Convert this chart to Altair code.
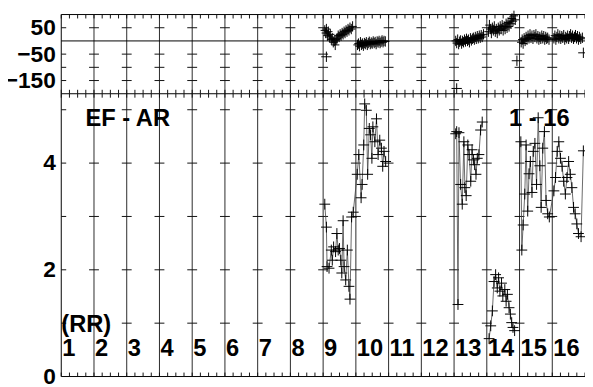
import altair as alt
import pandas as pd

# ---------------- values ----------------
grid_x = [2, 3, 4, 5, 6, 7, 8, 9, 10, 11, 12, 13, 14, 15, 16]
col_labels = ["1", "2", "3", "4", "5", "6", "7", "8", "9", "10", "11", "12", "13", "14", "15", "16"]
col_label_x = [1, 2, 3, 4, 5, 6, 7, 8, 9, 10, 11, 12, 13, 14, 15, 16]

top_tick_vals = [50, -50, -100, -150]
top_label_vals = [50, -50, -150]
bot_tick_vals = [1, 2, 3, 4, 5]
bot_label_vals = [0, 2, 4]

# bottom panel (EF - AR)
a_x = [9.05, 9.10, 9.12, 9.18, 9.25, 9.28, 9.32, 9.38, 9.42, 9.46, 9.50, 9.54, 9.57, 9.61, 9.64,
       9.69, 9.74, 9.79, 9.82, 9.87, 9.92, 10.04, 10.09, 10.16, 10.19, 10.24, 10.27, 10.32, 10.36,
       10.41, 10.45, 10.49, 10.52, 10.58, 10.63, 10.68, 10.73, 10.78, 10.82, 10.86, 10.91]
a_y = [3.23, 2.80, 2.06, 2.03, 2.37, 2.18, 2.43, 2.34, 2.68, 2.37, 2.40, 2.18, 1.94, 2.92, 2.06,
       1.81, 2.37, 1.69, 1.45, 2.99, 3.08, 3.79, 4.16, 3.35, 3.60, 4.34, 5.11, 4.99, 3.79,
       4.65, 4.53, 4.09, 4.68, 4.40, 4.83, 4.16, 4.43, 4.28, 3.94, 4.22, 4.03]
b_x = [13.05, 13.08, 13.12, 13.15, 13.20, 13.25, 13.30, 13.33, 13.37, 13.42, 13.46, 13.51, 13.55,
       13.59, 13.63, 13.67, 13.71, 13.76, 13.81, 13.86]
b_y = [4.55, 4.59, 1.35, 4.57, 3.60, 3.23, 4.40, 3.54, 3.39, 4.34, 4.16, 3.66, 4.25,
       4.06, 3.97, 3.79, 4.09, 4.16, 4.62, 4.77]
c_x = [14.07, 14.12, 14.17, 14.22, 14.27, 14.32, 14.36, 14.40, 14.45, 14.49, 14.55, 14.59, 14.63,
       14.68, 14.72, 14.76, 14.80, 14.85]
c_y = [0.71, 0.95, 1.23, 1.78, 1.91, 1.66, 1.85, 1.60, 1.75, 1.51, 1.63, 1.41, 1.54,
       1.29, 1.17, 1.01, 0.92, 0.86]
d_x = [15.04, 15.07, 15.11, 15.16, 15.20, 15.25, 15.29, 15.33, 15.38, 15.42, 15.47, 15.52, 15.57,
       15.62, 15.66, 15.71, 15.76, 15.81, 15.86, 15.91, 16.05, 16.10, 16.15, 16.20, 16.25, 16.30,
       16.35, 16.40, 16.45, 16.50, 16.55, 16.60, 16.65, 16.70, 16.75, 16.80, 16.88, 16.95]
d_y = [4.40, 2.37, 2.84, 3.42, 4.34, 3.10, 3.80, 4.03, 3.45, 4.22, 4.37, 3.60, 4.85,
       3.95, 3.17, 4.28, 4.59, 3.30, 3.05, 2.99, 3.48, 3.73, 4.22, 4.40, 4.09, 3.94,
       3.66, 3.42, 3.73, 4.03, 3.79, 3.54, 3.17, 3.05, 2.86, 2.68, 2.62, 4.23]

# top panel (residuals)
t9_x = [9.05, 9.08, 9.10, 9.13, 9.16, 9.19, 9.22, 9.25, 9.28, 9.31, 9.34, 9.37, 9.40, 9.43, 9.46,
        9.49, 9.52, 9.55, 9.58, 9.61, 9.64, 9.67, 9.70, 9.73, 9.76, 9.79, 9.82, 9.86, 9.90]
t9_y = [40, 30, 45, 20, 35, 15, 25, 5, 10, -5, 0, -15, 5, 10, 20,
        15, 25, 20, 30, 25, 35, 30, 40, 35, 45, 40, 50, 45, 55]
t10_x = [10.05, 10.08, 10.11, 10.14, 10.17, 10.20, 10.23, 10.26, 10.29, 10.32, 10.35, 10.38, 10.41,
         10.44, 10.47, 10.50, 10.53, 10.56, 10.59, 10.62, 10.65, 10.68, 10.71, 10.74, 10.77, 10.80,
         10.83, 10.86, 10.90]
t10_y = [-15, -10, -20, -5, -15, -10, -18, -8, -12, -5, -15, -8, -3,
         -12, -6, -10, -2, -8, -4, -12, -2, -6, 0, -8, -3, 2,
         -5, 0, -2]
t13_x = [13.05, 13.08, 13.11, 13.14, 13.17, 13.20, 13.23, 13.26, 13.29, 13.32, 13.35, 13.38, 13.41,
         13.44, 13.47, 13.50, 13.53, 13.56, 13.59, 13.62, 13.65, 13.68, 13.71, 13.74, 13.77, 13.80,
         13.83, 13.86, 13.90]
t13_y = [0, -8, 5, -12, -3, 2, -10, 0, -5, 5, -2, 8, 0,
         5, -5, 10, 2, 8, 12, 5, 15, 8, 18, 10, 20, 12,
         22, 15, 25]
t14_x = [14.05, 14.08, 14.11, 14.14, 14.17, 14.20, 14.23, 14.26, 14.29, 14.32, 14.35, 14.38, 14.41,
         14.44, 14.47, 14.50, 14.53, 14.56, 14.59, 14.62, 14.65, 14.68, 14.71, 14.74, 14.77, 14.80,
         14.83, 14.87]
t14_y = [35, 60, 45, 30, 50, 40, 55, 35, 45, 30, 50, 40, 55,
         45, 60, 40, 55, 45, 65, 50, 70, 55, 75, 65, 85, 75,
         95, 80]
t15_x = [15.05, 15.08, 15.11, 15.14, 15.17, 15.20, 15.23, 15.26, 15.29, 15.32, 15.35, 15.38, 15.41,
         15.44, 15.47, 15.50, 15.53, 15.56, 15.59, 15.62, 15.65, 15.68, 15.71, 15.74, 15.77, 15.80,
         15.83, 15.86, 15.90]
t15_y = [-5, 5, -10, 10, 0, 15, 5, 20, 10, 25, 12, 20, 8,
         22, 15, 25, 10, 18, 5, 15, 8, 20, 10, 18, 5, 15,
         8, 12, 5]
t16_x = [16.05, 16.08, 16.11, 16.14, 16.17, 16.20, 16.23, 16.26, 16.29, 16.32, 16.35, 16.38, 16.41,
         16.44, 16.47, 16.50, 16.53, 16.56, 16.59, 16.62, 16.65, 16.68, 16.71, 16.74, 16.77, 16.80,
         16.83, 16.87, 16.92]
t16_y = [10, 20, 5, 15, 25, 10, 20, 8, 18, 12, 22, 5, 15,
         10, 20, 8, 18, 25, 12, 20, 8, 15, 22, 10, 18, 5,
         15, 8, 12]
out_x = [9.10, 13.08, 14.92, 16.95]
out_y = [-60, -180, -75, -45]

annot_text = ["EF - AR", "1 - 16"]
annot_x = [1.74, 14.68]
annot_y = [4.69, 4.69]
rr_text = ["(RR)"]
rr_x = [1.0]
rr_y = [0.83]
col_label_y = 0.39

# ---------------- tables ----------------
def series(groups):
    rows = []
    for g, (xs_, ys_) in enumerate(groups):
        for i, (xv, yv) in enumerate(zip(xs_, ys_)):
            rows.append({"x": xv, "y": yv, "g": g, "i": i})
    return pd.DataFrame(rows)

bot_df = series([(a_x, a_y), (b_x, b_y), (c_x, c_y), (d_x, d_y)])
top_df = series([(t9_x, t9_y), (t10_x, t10_y), (t13_x, t13_y), (t14_x, t14_y),
                 (t15_x, t15_y), (t16_x, t16_y)])
out_df = pd.DataFrame({"x": out_x, "y": out_y})

minor_x = [1 + 0.25 * k for k in range(65)]

FONT = "Liberation Sans"
W = 531
H = 367          # both panels together
TOP_B = 80.3     # pixel row of the panel boundary inside the plot area

xs = alt.Scale(domain=[1, 17], nice=False, zero=False)


def X():
    return alt.X("x:Q", scale=xs, axis=None)


def y_axis(vals):
    return alt.Axis(values=vals, orient="left", grid=False, ticks=False, domain=False, title=None,
                    labelFont=FONT, labelFontWeight="bold", labelFontSize=23,
                    labelColor="black", labelPadding=6, labelOverlap=False,
                    labelFlush=False, labelBound=False)


def Yt(show=False):
    return alt.Y("y:Q", scale=alt.Scale(domain=[-200, 100], range=[TOP_B, 0], nice=False, zero=False),
                 axis=y_axis(top_label_vals) if show else None)


def Yb(show=False):
    return alt.Y("y:Q", scale=alt.Scale(domain=[0, 5.3], range=[H, TOP_B], nice=False, zero=False),
                 axis=y_axis(bot_label_vals) if show else None)


CROSS_H = "M-1,0L1,0"
CROSS_IN = "M0,0L1,0"
TICK_DN = "M0,0L0,1"
TICK_UP = "M0,0L0,-1"
PM = dict(color="#111", strokeWidth=1, filled=False, opacity=1)


def tick_layers(Y, tick_vals, y_top, y_bot):
    cross_df = pd.DataFrame([{"x": gx, "y": v} for gx in grid_x for v in tick_vals])
    frame_df = pd.DataFrame([{"x": 1, "y": v} for v in tick_vals])
    top_edge = pd.DataFrame({"x": minor_x, "y": [y_top] * len(minor_x)})
    bot_edge = pd.DataFrame({"x": minor_x, "y": [y_bot] * len(minor_x)})
    return [
        alt.Chart(cross_df).mark_point(shape=CROSS_H, size=100, **PM).encode(x=X(), y=Y()),
        alt.Chart(frame_df).mark_point(shape=CROSS_IN, size=100, **PM).encode(x=X(), y=Y()),
        alt.Chart(top_edge).mark_point(shape=TICK_DN, size=64, **PM).encode(x=X(), y=Y()),
        alt.Chart(bot_edge).mark_point(shape=TICK_UP, size=64, **PM).encode(x=X(), y=Y()),
    ]


# ---------------- frame and grid ----------------
grid_rules = alt.Chart(pd.DataFrame({"x": grid_x})).mark_rule(
    color="#2a2a2a", strokeWidth=1).encode(x=X())
left_edge = alt.Chart(pd.DataFrame({"x": [1]})).mark_rule(color="black", strokeWidth=1).encode(x=X())
top_rules = alt.Chart(pd.DataFrame({"y": [100, 0, -200]})).mark_rule(
    color="black", strokeWidth=1).encode(y=Yt(True))
bot_rule = alt.Chart(pd.DataFrame({"y": [0]})).mark_rule(
    color="black", strokeWidth=1).encode(y=Yb(True))

# ---------------- top panel ----------------
top_lines = alt.Chart(top_df).mark_line(color="#444", strokeWidth=0.8).encode(
    x=X(), y=Yt(), detail="g:N", order="i:Q")
top_pts = alt.Chart(top_df).mark_point(shape="M-0.8,0L0.8,0M0,-1L0,1", size=110, color="black",
                                       strokeWidth=1, filled=False, opacity=1).encode(x=X(), y=Yt())
out_pts = alt.Chart(out_df).mark_point(shape="M-1,0L1,0M0,-1L0,1", size=110, color="black",
                                       strokeWidth=1, filled=False, opacity=1).encode(x=X(), y=Yt())

# ---------------- bottom panel ----------------
bot_lines = alt.Chart(bot_df).mark_line(color="#444", strokeWidth=0.8).encode(
    x=X(), y=Yb(), detail="g:N", order="i:Q")
bot_pts = alt.Chart(bot_df).mark_point(shape="M-1,0L1,0M0,-1L0,1", size=120, color="black",
                                       strokeWidth=1, filled=False, opacity=1).encode(x=X(), y=Yb())

txt = dict(align="left", baseline="alphabetic", font=FONT, fontWeight="bold",
           fontSize=24, color="black")
col_df = pd.DataFrame({"x": col_label_x, "y": [col_label_y] * len(col_label_x), "t": col_labels})
col_txt = alt.Chart(col_df).mark_text(dx=1, **txt).encode(x=X(), y=Yb(), text="t:N")
annot_df = pd.DataFrame({"x": annot_x, "y": annot_y, "t": annot_text})
annot_txt = alt.Chart(annot_df).mark_text(**txt).encode(x=X(), y=Yb(), text="t:N")
rr_df = pd.DataFrame({"x": rr_x, "y": rr_y, "t": rr_text})
rr_txt = alt.Chart(rr_df).mark_text(**txt).encode(x=X(), y=Yb(), text="t:N")

chart = alt.layer(
    grid_rules, left_edge, top_rules, bot_rule,
    *tick_layers(Yt, top_tick_vals, 100, -200),
    *tick_layers(Yb, bot_tick_vals, 5.3, 0),
    top_lines, top_pts, out_pts,
    bot_lines, bot_pts, col_txt, annot_txt, rr_txt,
).resolve_scale(y="independent").properties(
    width=W, height=H,
    autosize=alt.AutoSizeParams(type="none"),
    padding={"left": 54, "top": 4, "right": 0, "bottom": 8},
    background="white",
).configure_view(stroke=None)

chart.save("out.html", embed_options={"renderer": "svg", "actions": False})
